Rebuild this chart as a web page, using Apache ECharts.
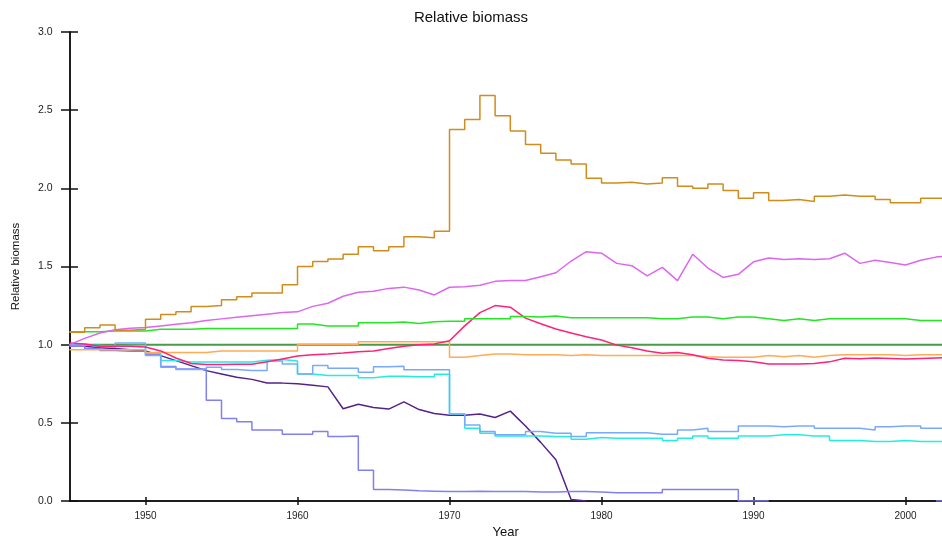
<!DOCTYPE html>
<html>
<head>
<meta charset="utf-8">
<script src="https://cdn.jsdelivr.net/npm/echarts@6/dist/echarts.min.js"></script>
<style>
  html, body { margin: 0; padding: 0; background: #ffffff; }
  #chart { width: 942px; height: 544px; }
</style>
</head>
<body>
<div id="chart"></div>
<script>
// Years 1945..2003, one value per year for every group
const years = [];
for (let y = 1945; y <= 2003; y++) years.push(y);

const xTicks = [1950, 1960, 1970, 1980, 1990, 2000];

const reference = [1.0, 1.0];
const referenceYears = [1945, 2003];

const brown = [1.08, 1.109, 1.126, 1.092, 1.098, 1.162, 1.193, 1.21, 1.244, 1.25,
  1.288, 1.307, 1.331, 1.331, 1.383, 1.50, 1.532, 1.548, 1.578, 1.627,
  1.601, 1.627, 1.69, 1.684, 1.726, 2.376, 2.44, 2.594, 2.465, 2.366,
  2.281, 2.224, 2.182, 2.155, 2.064, 2.034, 2.039, 2.028, 2.034, 2.068,
  2.013, 2.0, 2.028, 1.986, 1.937, 1.971, 1.922, 1.928, 1.916, 1.95,
  1.958, 1.95, 1.95, 1.928, 1.907, 1.907, 1.937, 1.937, 1.937];

const violet = [1.0, 1.04, 1.075, 1.095, 1.105, 1.11, 1.12, 1.13, 1.14, 1.155,
  1.165, 1.175, 1.185, 1.195, 1.205, 1.21, 1.245, 1.265, 1.31, 1.335,
  1.342, 1.36, 1.368, 1.35, 1.318, 1.367, 1.37, 1.38, 1.405, 1.41,
  1.41, 1.435, 1.46, 1.535, 1.595, 1.585, 1.52, 1.505, 1.44, 1.494,
  1.41, 1.578, 1.49, 1.43, 1.45, 1.53, 1.555, 1.545, 1.55, 1.545,
  1.55, 1.585, 1.52, 1.54, 1.525, 1.51, 1.54, 1.56, 1.57];

const green = [1.082, 1.082, 1.088, 1.088, 1.088, 1.098, 1.098, 1.098, 1.103, 1.103,
  1.103, 1.103, 1.103, 1.103, 1.103, 1.132, 1.12, 1.12, 1.12, 1.14,
  1.14, 1.145, 1.135, 1.147, 1.15, 1.15, 1.165, 1.165, 1.165, 1.18,
  1.177, 1.183, 1.172, 1.172, 1.172, 1.172, 1.172, 1.172, 1.166, 1.166,
  1.177, 1.177, 1.166, 1.177, 1.177, 1.166, 1.155, 1.166, 1.155, 1.166,
  1.166, 1.166, 1.166, 1.166, 1.166, 1.155, 1.155, 1.155, 1.155];

const pink = [1.01, 1.005, 0.99, 0.99, 0.99, 0.985, 0.96, 0.915, 0.88, 0.873,
  0.873, 0.875, 0.875, 0.89, 0.908, 0.928, 0.935, 0.94, 0.947, 0.955,
  0.96, 0.975, 0.99, 1.0, 1.005, 1.025, 1.12, 1.205, 1.25, 1.24,
  1.17, 1.134, 1.1, 1.075, 1.05, 1.03, 0.997, 0.98, 0.96, 0.945,
  0.95, 0.935, 0.913, 0.902, 0.898, 0.891, 0.877, 0.877, 0.877, 0.88,
  0.89, 0.913, 0.91, 0.915, 0.912, 0.908, 0.912, 0.915, 0.917];

const orange = [0.968, 0.968, 0.968, 0.968, 0.968, 0.95, 0.95, 0.95, 0.95, 0.96,
  0.96, 0.96, 0.96, 0.96, 0.96, 1.003, 1.003, 1.003, 1.003, 1.018,
  1.018, 1.018, 1.018, 1.018, 1.018, 0.92, 0.93, 0.94, 0.94, 0.935,
  0.935, 0.935, 0.93, 0.935, 0.93, 0.93, 0.93, 0.93, 0.93, 0.93,
  0.93, 0.923, 0.919, 0.919, 0.919, 0.93, 0.923, 0.93, 0.919, 0.93,
  0.936, 0.936, 0.936, 0.936, 0.93, 0.936, 0.936, 0.936, 0.936];

const lightBlue = [1.0, 0.99, 0.985, 1.01, 1.01, 0.93, 0.855, 0.841, 0.841, 0.855,
  0.841, 0.834, 0.834, 0.895, 0.877, 0.813, 0.866, 0.849, 0.849, 0.824,
  0.858, 0.862, 0.84, 0.84, 0.84, 0.556, 0.486, 0.444, 0.423, 0.423,
  0.444, 0.433, 0.433, 0.412, 0.437, 0.437, 0.437, 0.437, 0.427, 0.427,
  0.454, 0.465, 0.444, 0.444, 0.48, 0.48, 0.475, 0.48, 0.48, 0.465,
  0.465, 0.465, 0.454, 0.475, 0.48, 0.48, 0.465, 0.465, 0.465];

const cyan = [1.0, 0.995, 0.99, 0.995, 0.995, 0.945, 0.898, 0.889, 0.889, 0.889,
  0.889, 0.889, 0.9, 0.905, 0.895, 0.813, 0.803, 0.803, 0.803, 0.788,
  0.798, 0.798, 0.795, 0.795, 0.81, 0.556, 0.465, 0.433, 0.416, 0.416,
  0.416, 0.412, 0.412, 0.395, 0.406, 0.401, 0.401, 0.401, 0.401, 0.387,
  0.401, 0.416, 0.401, 0.401, 0.416, 0.416, 0.423, 0.423, 0.416, 0.416,
  0.387, 0.387, 0.38, 0.38, 0.387, 0.38, 0.38, 0.38, 0.38];

const purple = [1.0, 0.99, 0.98, 0.975, 0.968, 0.96, 0.93, 0.898, 0.866, 0.834,
  0.813, 0.792, 0.778, 0.755, 0.754, 0.75, 0.74, 0.73, 0.59, 0.619,
  0.598, 0.588, 0.634, 0.585, 0.56, 0.549, 0.549, 0.556, 0.534, 0.575,
  0.48, 0.375, 0.264, 0.01, 0.0, null, null, null, null, null,
  null, null, null, null, null, null, null, null, null, null,
  null, null, null, null, null, null, null, null, null];

const lavender = [0.99, 0.975, 0.962, 0.958, 0.958, 0.935, 0.86, 0.845, 0.845, 0.644,
  0.528, 0.507, 0.454, 0.454, 0.427, 0.427, 0.444, 0.412, 0.416, 0.196,
  0.074, 0.07, 0.066, 0.063, 0.06, 0.06, 0.063, 0.06, 0.06, 0.06,
  0.058, 0.058, 0.06, 0.06, 0.057, 0.053, 0.053, 0.053, 0.053, 0.074,
  0.074, 0.074, 0.074, 0.074, 0.0, 0.0, null, null, null, null,
  null, null, null, null, null, null, null, 0.0, 0.0];

function pairs(xs, ys) {
  return xs.map((x, i) => [x, ys[i]]);
}

function stepSeries(name, values, color) {
  return {
    name: name, type: 'line', step: 'end', data: pairs(years, values),
    showSymbol: false, connectNulls: false, clip: true,
    lineStyle: { color: color, width: 1.5 }, itemStyle: { color: color },
    animation: false
  };
}
function curveSeries(name, values, color) {
  return {
    name: name, type: 'line', data: pairs(years, values),
    showSymbol: false, connectNulls: false, clip: true,
    lineStyle: { color: color, width: 1.5 }, itemStyle: { color: color },
    animation: false
  };
}

const font = 'Arial, "Liberation Sans", sans-serif';

// The plot runs off the right edge a little: the last year sits just past it
const baseX = {
  type: 'value', min: 1945, max: 2002.4, position: 'bottom',
  splitLine: { show: false },
  axisLine: { show: true, onZero: false, lineStyle: { color: '#111', width: 1.5 } }
};
const baseY = {
  type: 'value', min: 0, max: 3, interval: 0.5, position: 'left',
  splitLine: { show: false },
  axisLine: { show: true, onZero: false, lineStyle: { color: '#111', width: 1.5 } }
};

const chart = echarts.init(document.getElementById('chart'), null, { renderer: 'canvas' });
chart.setOption({
  animation: false,
  backgroundColor: '#ffffff',
  title: {
    text: 'Relative biomass', left: 'center', top: 5,
    textStyle: { fontFamily: font, fontSize: 15, fontWeight: 'normal', color: '#111' }
  },
  grid: { left: 69.5, right: 0, top: 32, bottom: 39, containLabel: false },
  xAxis: [
    Object.assign({}, baseX, {
      name: 'Year', nameLocation: 'middle', nameGap: 25,
      nameTextStyle: { fontFamily: font, fontSize: 13, color: '#111' },
      axisTick: { show: true, customValues: xTicks, length: 4, inside: false,
        lineStyle: { color: '#111', width: 1.5 } },
      axisLabel: { show: true, customValues: xTicks, margin: 10,
        fontFamily: font, fontSize: 10, color: '#222', formatter: v => String(v) }
    }),
    Object.assign({}, baseX, {
      axisTick: { show: true, customValues: xTicks, length: 4, inside: true,
        lineStyle: { color: '#111', width: 1.5 } },
      axisLabel: { show: false }
    })
  ],
  yAxis: [
    Object.assign({}, baseY, {
      name: 'Relative biomass', nameLocation: 'middle', nameGap: 48,
      nameTextStyle: { fontFamily: font, fontSize: 11.5, color: '#111' },
      axisTick: { show: true, length: 8.5, inside: false,
        lineStyle: { color: '#111', width: 1.5 } },
      axisLabel: { show: true, margin: 17, fontFamily: font, fontSize: 10.5, color: '#222',
        formatter: v => v.toFixed(1) }
    }),
    Object.assign({}, baseY, {
      axisTick: { show: true, length: 8.5, inside: true,
        lineStyle: { color: '#111', width: 1.5 } },
      axisLabel: { show: false }
    })
  ],
  series: [
    {
      name: 'Reference', type: 'line', data: pairs(referenceYears, reference),
      showSymbol: false, lineStyle: { color: '#4a9a4a', width: 2 }, animation: false
    },
    curveSeries('Purple', purple, '#552288'),
    stepSeries('Lavender', lavender, '#8080f0'),
    stepSeries('Cyan', cyan, '#22eedd'),
    stepSeries('Light blue', lightBlue, '#77aaff'),
    stepSeries('Orange', orange, '#ffaa55'),
    curveSeries('Pink', pink, '#ff2277'),
    stepSeries('Green', green, '#22e622'),
    curveSeries('Violet', violet, '#dd66ee'),
    stepSeries('Brown', brown, '#d08c1c')
  ]
});
</script>
</body>
</html>
